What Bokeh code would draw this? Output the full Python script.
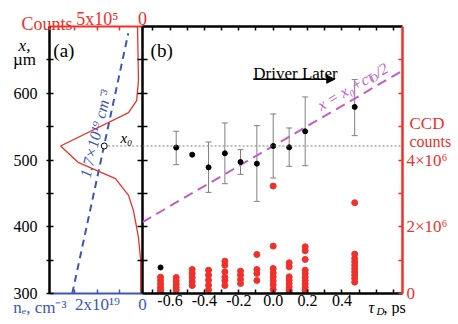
from bokeh.plotting import figure
from bokeh.layouts import row, column
from bokeh.models import (Range1d, LinearAxis, FixedTicker, ColumnDataSource, Whisker,
                          TeeHead, Label, Arrow, NormalHead, Span)
from bokeh.embed import file_html
from bokeh.resources import INLINE

FONT = "'Liberation Serif', serif"
RED = "#f0302a"
BLUE = "#3d55b8"
MAG = "#c25fc4"
GRAY = "#808080"

# ---------------- panel (a) data ----------------
prof_x = [300, 350, 384, 424, 447, 472, 496, 521, 571, 589, 619, 700]          # x, um
prof_counts = [0.2, 0.2, 0.45, 1.0, 1.55, 3.0, 7.1, 9.1, 1.55, 0.65, 0.45, 0.55]  # counts, 1e5
ne_x = [300, 690]                 # x, um
ne_vals = [3.12, 0.63]            # n_e, 1e19 cm^-3
x0 = 521                          # um
ne_x0 = 1.7                       # 1e19 cm^-3

# ---------------- panel (b) data ----------------
tau = [-0.655, -0.564, -0.471, -0.376, -0.281, -0.19, -0.095, 0.0, 0.093, 0.186, 0.474]
xpos = [339, 518.6, 508, 489, 510, 497, 494.5, 521, 519, 543, 579.5]
err_tau = [-0.564, -0.376, -0.281, -0.19, -0.095, 0.0, 0.093, 0.186, 0.474]
err_hi = [543, 527, 555.5, 515.5, 551.5, 569, 548, 594.5, 620.5]
err_lo = [493, 451.5, 464.5, 478.5, 438, 473, 490.5, 491.5, 536.5]

ccd_cols = {
    -0.655: [0.49, 0.39, 0.29, 0.19, 0.11, 0.04],
    -0.564: [0.48, 0.38, 0.28, 0.18, 0.10],
    -0.471: [0.72, 0.60, 0.48, 0.36, 0.24],
    -0.376: [0.70, 0.55, 0.40, 0.25, 0.11],
    -0.281: [0.97, 0.85, 0.65, 0.49, 0.39, 0.24],
    -0.19: [0.67, 0.55, 0.42, 0.30],
    -0.095: [1.17, 0.72, 0.60, 0.39],
    0.0: [3.22, 1.42, 0.75, 0.62, 0.50, 0.38, 0.26, 0.12],
    0.093: [0.92, 0.80, 0.50, 0.40, 0.30, 0.20, 0.10, 0.04],
    0.186: [1.40, 1.28, 1.02, 0.70, 0.60, 0.49, 0.39, 0.29, 0.19, 0.09, 0.02],
    0.474: [2.72, 1.18, 1.05, 0.95, 0.85, 0.75, 0.65, 0.55, 0.45, 0.34],
}   # CCD counts, 1e6
ccd_tau = [t for t, v in ccd_cols.items() for _ in v]
ccd_val = [c for v in ccd_cols.values() for c in v]

C_HALF = 150.0   # c/2 in um/ps

x_ticks = [300, 400, 500, 600]
x_minor = [350, 450, 550, 650]
x_all = [350, 400, 450, 500, 550, 600, 650]
tau_ticks = [-0.6, -0.4, -0.2, 0.0, 0.2, 0.4]
tau_minor = [-0.7, -0.5, -0.3, -0.1, 0.1, 0.3, 0.5, 0.6, 0.7]
tau_all = sorted(tau_ticks + tau_minor)
tau_labels = {-0.6: "-0.6", -0.4: "-0.4", -0.2: "-0.2", 0.0: "0.0", 0.2: "0.2", 0.4: "0.4"}


def style_axis(ax, color, size="16px", tin=4, tout=0, lw=2.5):
    ax.axis_line_color = color
    ax.axis_line_width = lw
    ax.major_tick_line_color = color
    ax.minor_tick_line_color = color
    ax.major_tick_line_width = 1.5
    ax.minor_tick_line_width = 1.5
    ax.major_tick_in = tin
    ax.major_tick_out = tout
    ax.minor_tick_in = tin
    ax.minor_tick_out = tout
    ax.major_label_text_font = FONT
    ax.major_label_text_font_size = size
    ax.major_label_text_color = color


def lab(p, text, x, y, color="black", size="17px", align="left", style="normal", angle=0,
        xo=0, yo=0):
    p.add_layout(Label(x=x, y=y, text=text, text_color=color, text_font=FONT,
                       text_font_size=size, text_align=align, text_baseline="alphabetic",
                       text_font_style=style, angle=angle, x_offset=xo, y_offset=yo))


# ================= panel (a) =================
pa = figure(width=150, height=316, x_range=Range1d(4.13, 0), y_range=Range1d(300, 700),
            output_backend="svg", toolbar_location=None, x_axis_location=None,
            y_axis_location=None, min_border_left=49, min_border_right=8,
            min_border_top=26, min_border_bottom=23)
pa.extra_x_ranges = {"counts": Range1d(10.33, 0)}
pa.grid.visible = False
pa.outline_line_color = None

ax = LinearAxis(ticker=FixedTicker(ticks=x_ticks, minor_ticks=x_minor), major_label_standoff=9)
style_axis(ax, "black", size="16px", tin=4, tout=3)
pa.add_layout(ax, "left")

ax = LinearAxis(ticker=FixedTicker(ticks=[], minor_ticks=x_all))
style_axis(ax, "black", tin=5, tout=5)
pa.add_layout(ax, "right")

ax = LinearAxis(ticker=FixedTicker(ticks=[0, 2], minor_ticks=[1, 3]),
                major_label_overrides={0: "0", 2: "2x10¹⁹"}, major_label_standoff=1)
style_axis(ax, BLUE, size="17px", tin=4, tout=0, lw=2)
pa.add_layout(ax, "below")

ax = LinearAxis(x_range_name="counts", ticker=FixedTicker(ticks=[0, 5], minor_ticks=[2.5, 7.5]),
                major_label_overrides={0: "0", 5: "5x10⁵"}, major_label_standoff=-2)
style_axis(ax, RED, size="18px", tin=4, tout=0, lw=2)
pa.add_layout(ax, "above")

pa.line(ne_vals, ne_x, color=BLUE, line_width=2, line_dash="7 5")
pa.line(prof_counts, prof_x, x_range_name="counts", color=RED, line_width=1.3)
pa.line([ne_x0, pa.x_range.end], [x0, x0], color=GRAY, line_width=1, line_dash="2 2")
pa.scatter([ne_x0], [x0], marker="circle", size=6, fill_color="white", line_color="black",
           line_width=1)

lab(pa, "(a)", 3.96, 664.5, size="19px")
lab(pa, "x₀", 0.98, 532.5, size="15px", style="italic")
lab(pa, "1.7×10¹⁹ cm⁻³", 2.56, 474, color=BLUE, size="16px", style="italic", angle=1.33)

# ================= panel (b) =================
pb = figure(width=314, height=316, x_range=Range1d(-0.760, 0.752), y_range=Range1d(300, 700),
            output_backend="svg", toolbar_location=None, x_axis_location=None,
            y_axis_location=None, min_border_left=0, min_border_right=54,
            min_border_top=26, min_border_bottom=23, margin=(0, 0, 0, -8))
pb.extra_y_ranges = {"ccd": Range1d(0, 8)}
pb.grid.visible = False
pb.outline_line_color = None
pb.background_fill_alpha = 0
pb.border_fill_alpha = 0

ax = LinearAxis(ticker=FixedTicker(ticks=tau_ticks, minor_ticks=tau_minor),
                major_label_overrides=tau_labels, major_label_standoff=1)
style_axis(ax, "black", size="16px", tin=4, tout=0)
pb.add_layout(ax, "below")

ax = LinearAxis(ticker=FixedTicker(ticks=[], minor_ticks=tau_all))
style_axis(ax, "black", tin=4, tout=0)
pb.add_layout(ax, "above")

ax = LinearAxis(y_range_name="ccd", ticker=FixedTicker(ticks=[0, 2, 4], minor_ticks=[1, 3, 5, 6, 7]),
                major_label_overrides={0: "0", 2: "2×10⁶", 4: "4×10⁶"}, major_label_standoff=4)
style_axis(ax, RED, size="17px", tin=4, tout=0)
pb.add_layout(ax, "right")

pb.add_layout(Span(location=x0, dimension="width", line_color=GRAY, line_width=1,
                   line_dash="2 2"))
t_line = [pb.x_range.start, pb.x_range.end]
pb.line(t_line, [x0 + C_HALF * t for t in t_line], color=MAG, line_width=2, line_dash="10 6")

src = ColumnDataSource(dict(t=err_tau, hi=err_hi, lo=err_lo))
pb.add_layout(Whisker(source=src, base="t", upper="hi", lower="lo", dimension="height",
                      line_color=GRAY, line_width=1,
                      upper_head=TeeHead(size=6, line_color=GRAY, line_width=1),
                      lower_head=TeeHead(size=6, line_color=GRAY, line_width=1)))
pb.scatter(tau, xpos, size=5, color="black")
pb.scatter(ccd_tau, ccd_val, y_range_name="ccd", size=6, color=RED)

lab(pb, "(b)", -0.713, 664.5, size="19px")
lab(pb, "Driver Later", 0.13, 630, align="center")
pb.add_layout(Arrow(end=NormalHead(size=8, fill_color="black", line_color="black"),
                    x_start=-0.116, y_start=621, x_end=0.358, y_end=621,
                    line_width=1.5, line_color="black"))

ang = 0.524
lab(pb, "x = x₀+cτ", 0.263, 580.5, color=MAG, size="16px", style="italic", angle=ang)
lab(pb, "D", 0.263, 580.5, color=MAG, size="11px", style="italic", angle=ang, xo=52.2, yo=26.6)
lab(pb, "/2", 0.263, 580.5, color=MAG, size="16px", style="italic", angle=ang, xo=57.6, yo=33.2)

# ================= transparent overlay for texts outside the frames =================
po = figure(width=456, height=316, x_range=Range1d(0, 456), y_range=Range1d(316, 0),
            output_backend="svg", toolbar_location=None, x_axis_location=None,
            y_axis_location=None, min_border=0, margin=(-316, 0, 0, 0))
po.grid.visible = False
po.outline_line_color = None
po.background_fill_alpha = 0
po.border_fill_alpha = 0

lab(po, "x,", 24, 45, align="center", style="italic")
lab(po, "µm", 24, 59, align="center")
lab(po, "Counts", 72, 23.5, color=RED, size="18px", align="right")
lab(po, "nₑ, cm⁻³", 66, 307, color=BLUE, size="17px", align="right")
lab(po, "τ", 368, 307, size="16px", style="italic")
lab(po, "D", 376, 310, size="11px", style="italic")
lab(po, ", ps", 383, 307, size="16px")
lab(po, "CCD", 409, 122.5, color=RED, size="17px")
lab(po, "counts", 409, 141, color=RED, size="16px")

lay = column(row(pa, pb), po)
open("out.html", "w").write(file_html(lay, INLINE))
